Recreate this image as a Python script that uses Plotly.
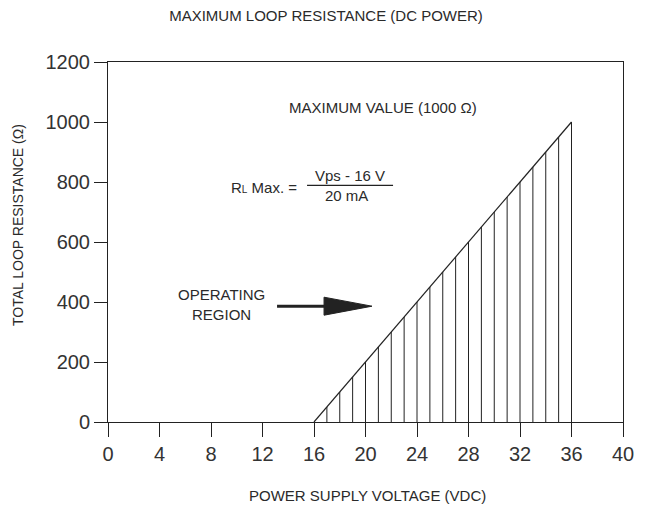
import plotly.graph_objects as go

# ---- data ----
boundary_voltage = [16, 36]          # VDC
boundary_resistance = [0, 1000]      # ohm
hatch_voltage = [17, 18, 19, 20, 21, 22, 23, 24, 25, 26, 27, 28, 29, 30, 31, 32, 33, 34, 35, 36]
hatch_resistance = [50, 100, 150, 200, 250, 300, 350, 400, 450, 500, 550, 600, 650, 700, 750, 800, 850, 900, 950, 1000]
x_ticks = [0, 4, 8, 12, 16, 20, 24, 28, 32, 36, 40]
y_ticks = [0, 200, 400, 600, 800, 1000, 1200]

FONT = "Liberation Sans, Arial, sans-serif"
INK = "#222222"
TXT = "#2a2a2a"

hx, hy = [], []
for v, r in zip(hatch_voltage, hatch_resistance):
    hx += [v, v, None]
    hy += [0, r, None]

fig = go.Figure()
fig.add_trace(go.Scatter(x=hx, y=hy, mode="lines",
                         line=dict(color=INK, width=1), hoverinfo="skip", showlegend=False))
fig.add_trace(go.Scatter(x=boundary_voltage, y=boundary_resistance, mode="lines",
                         line=dict(color=INK, width=1.2), showlegend=False))

data_anns = [
    dict(x=21.36, y=1049, text="MAXIMUM VALUE (1000 Ω)"),
    dict(x=12.15, y=782, text="R<span style='font-size:10px'>L</span> Max. ="),
    dict(x=18.8, y=822, text="Vps - 16 V"),
    dict(x=18.56, y=756, text="20 mA"),
    dict(x=8.78, y=392, text="OPERATING<br>REGION"),
]
annotations = [
    dict(a, xref="x", yref="y", showarrow=False, font=dict(family=FONT, size=15, color=TXT))
    for a in data_anns
]
annotations.append(dict(text="POWER SUPPLY VOLTAGE (VDC)", xref="paper", yref="paper",
                        x=0.503, y=-0.203, showarrow=False, xanchor="center", yanchor="middle",
                        font=dict(family=FONT, size=15, color=TXT)))
annotations.append(dict(text="TOTAL LOOP RESISTANCE (Ω)", xref="paper", yref="paper",
                        x=-0.175, y=0.547, showarrow=False, xanchor="center", yanchor="middle",
                        textangle=-90, font=dict(family=FONT, size=14, color=TXT)))
fig.update_layout(annotations=annotations)

# fraction bar
fig.add_shape(type="line", xref="x", yref="y", x0=15.46, x1=22.14, y0=789, y1=789,
              line=dict(color=INK, width=1.2))
# arrow shaft
fig.add_shape(type="line", xref="x", yref="y", x0=13.13, x1=17.2, y0=386, y1=386,
              line=dict(color=INK, width=3))
# arrow head
fig.add_shape(type="path", xref="x", yref="y",
              path="M 16.78 416 L 20.5 386 L 16.78 356 Z",
              fillcolor=INK, line=dict(color=INK, width=1))

fig.update_layout(
    width=649, height=506,
    margin=dict(l=100, r=34, t=54, b=92),
    paper_bgcolor="white", plot_bgcolor="white",
    font=dict(family=FONT, color=TXT),
    title=dict(text="MAXIMUM LOOP RESISTANCE (DC POWER)", xref="container", x=0.49,
               xanchor="center", yref="container", y=1 - 8 / 506, yanchor="middle",
               font=dict(size=15, family=FONT, color=TXT)),
    xaxis=dict(range=[0, 40], tickvals=x_ticks, ticks="outside", ticklen=14, tickwidth=1,
               tickcolor=INK, showline=True, linecolor=INK, linewidth=1, mirror=True,
               showgrid=False, zeroline=False, tickfont=dict(size=20, family=FONT, color="#333333")),
    yaxis=dict(range=[0, 1200], tickvals=y_ticks, ticks="outside", ticklen=13, tickwidth=1,
               tickcolor=INK, showline=True, linecolor=INK, linewidth=1, mirror=True,
               showgrid=False, zeroline=False, tickfont=dict(size=20, family=FONT, color="#333333")),
)

fig.write_html("out.html")
